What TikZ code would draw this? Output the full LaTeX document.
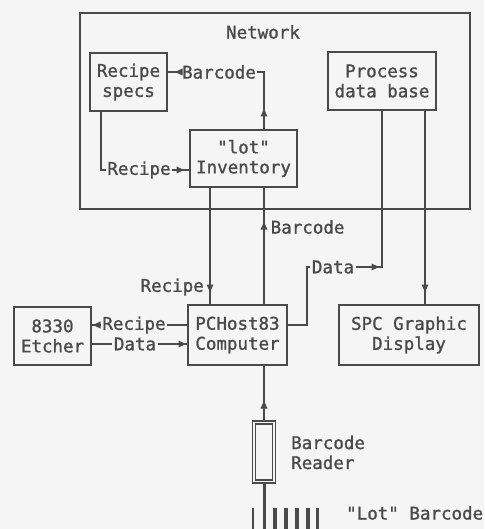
\documentclass[tikz,border=0pt]{standalone}
\usepackage{fontspec}
\newfontfamily\plotfont[FakeBold=1.2]{DejaVu Sans Mono}
\usetikzlibrary{calc}
\definecolor{ink}{HTML}{4A4A4A}
\definecolor{paper}{HTML}{F5F5F5}
\tikzset{
  txt/.style={font=\plotfont\fontsize{17.5}{20}\selectfont, text=ink},
  box/.style={txt, draw=ink, line width=1.5pt, align=center, inner sep=0pt},
  thickbox/.style={box, line width=2.8pt},
  lbl/.style={txt, inner xsep=1.5pt, inner ysep=0pt, fill=paper},
  plain/.style={txt, inner sep=0pt},
  wire/.style={draw=ink, line width=1.5pt},
}
\newcommand\arrowtri[3]{\fill[ink, shift={(#1,#2)}, rotate=#3] (0,0) -- (-7.5,3.5) -- (-7.5,-3.5) -- cycle;}
\begin{document}
\begin{tikzpicture}[x=1pt,y=-1pt]
\path[use as bounding box, fill=paper] (0,0) rectangle (484,529);

% boxes
\node[thickbox, minimum width=390pt, minimum height=196pt] (net) at (275,111) {};
\node[plain] (netlbl) at (263,32) {Network};
\node[box, minimum width=77pt, minimum height=58pt] (specs) at (128.5,82) {Recipe\\specs};
\node[box, minimum width=107pt, minimum height=57pt] (inv) at (243.5,158.5) {\symbol{34}lot\symbol{34}\\Inventory};
\node[box, minimum width=108pt, minimum height=58pt] (pdb) at (382,81) {Process\\data base};
\node[thickbox, minimum width=99pt, minimum height=60pt] (pc) at (237.5,335) {PCHost83\\Computer};
\node[thickbox, minimum width=140pt, minimum height=60pt] (spc) at (409,335) {SPC Graphic\\Display};
\node[box, minimum width=77pt, minimum height=58pt] (etch) at (52.5,336) {8330\\Etcher};
\node[draw=ink, line width=1.6pt, double=paper, double distance=1.6pt, minimum width=20pt, minimum height=59pt, inner sep=0pt] (reader) at (264,452) {};

% helper coordinates
\coordinate (rx) at (101,170);
\coordinate (bt) at (264,72);
\coordinate (rv) at (210,287);
\coordinate (bv) at (264,227);
\coordinate (d0) at (307,325);
\coordinate (d1) at (307,267);
\coordinate (d2) at (382,267);
\coordinate (sv) at (425,287);
\coordinate (er) at (140,325);
\coordinate (ed) at (140,344);
\coordinate (rt) at (264,529);

% Recipe specs -> lot inventory
\draw[wire] (rx |- specs.south) -- (rx) -- (rx -| inv.west);
\node[lbl] (l1) at (139,170) {Recipe};
\arrowtri{184}{170}{0}

% lot inventory -> Recipe specs (Barcode)
\draw[wire] (bt |- inv.north) -- (bt) -- (bt -| specs.east);
\node[lbl] (l2) at (219,72) {Barcode};
\arrowtri{175}{72}{180}
\arrowtri{264}{109}{90}

% inventory -> PCHost (Recipe)
\draw[wire] (rv |- inv.south) -- (rv |- pc.north);
\node[plain, anchor=east] (l3) at (204,287) {Recipe};
\arrowtri{210}{292}{-90}

% PCHost -> inventory (Barcode)
\draw[wire] (bv |- pc.north) -- (bv |- inv.south);
\node[lbl, anchor=west] (l4) at (269,227) {Barcode};
\arrowtri{264}{222}{90}

% PCHost -> process data base (Data)
\draw[wire] (d0 -| pc.east) -- (d0) -- (d1) -- (d2) -- (d2 |- pdb.south);
\node[lbl] (l5) at (333,267) {Data};
\arrowtri{379}{267}{0}

% process data base -> SPC display
\draw[wire] (sv |- pdb.south) -- (sv |- spc.north);
\arrowtri{425}{292}{-90}

% PCHost -> etcher (Recipe)
\draw[wire] (er -| pc.west) -- (er -| etch.east);
\node[lbl] (l6) at (134,325) {Recipe};
\arrowtri{93}{325}{180}

% etcher -> PCHost (Data)
\draw[wire] (ed -| etch.east) -- (ed -| pc.west);
\node[lbl] (l7) at (135,344) {Data};
\arrowtri{186}{344}{0}

% reader -> PCHost
\draw[wire] (reader.north) -- (reader.north |- pc.south);
\arrowtri{264}{401}{90}

% reader tail and barcode
\draw[ink, line width=3pt] (reader.south) -- (rt);
\foreach \x/\w in {253/1.6, 275/3.4, 286/3.6, 297/4, 308/3.6, 317/3}
  \draw[ink, line width=\w pt] (\x,508) -- (\x,529);

\node[plain, align=left, anchor=west] (rdlbl) at (291,452.5) {Barcode\\Reader};
\node[plain, anchor=west] (lotlbl) at (346,513) {\symbol{34}Lot\symbol{34} Barcode};
\end{tikzpicture}
\end{document}
